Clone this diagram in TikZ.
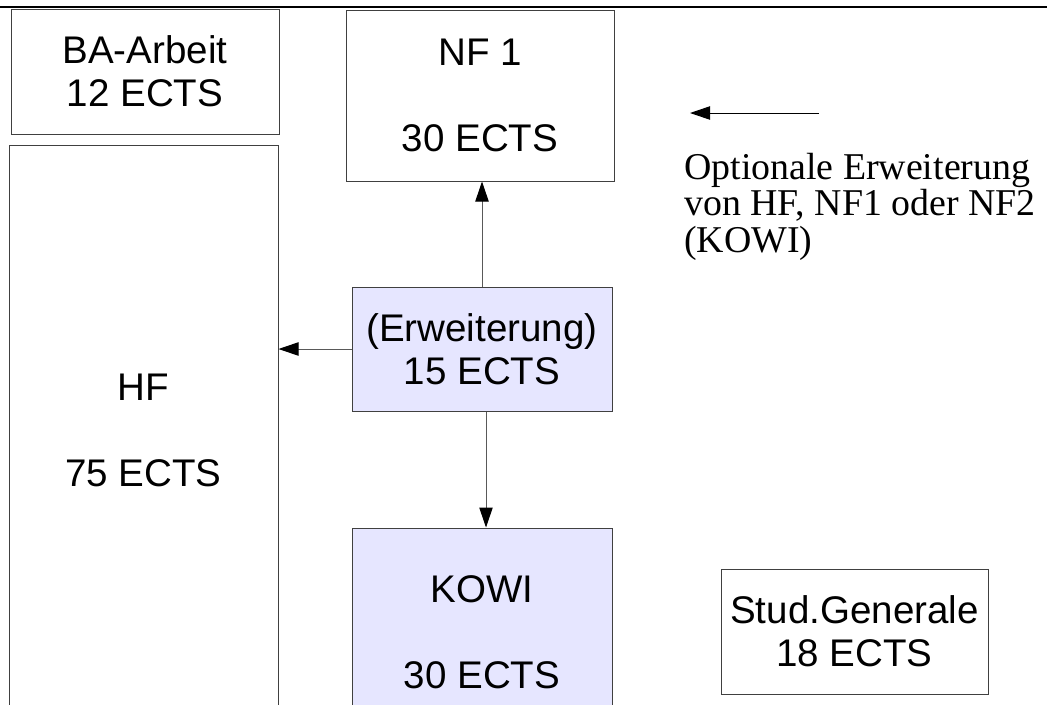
\documentclass[tikz,border=0pt]{standalone}
\usepackage{fontspec}
\setmainfont{Liberation Serif}
\setsansfont{Liberation Sans}
\usepackage{tikz}
\usetikzlibrary{arrows.meta,calc}

\definecolor{lavender}{RGB}{230,230,255}

\begin{document}
\begin{tikzpicture}[x=0.75pt,y=-0.75pt,
  modul/.style={draw=black!75,line width=0.75pt,rectangle,inner sep=0pt,align=center,
    font=\sffamily\fontsize{28.9}{32.25}\selectfont},
  erw/.style={modul,fill=lavender},
  pfeil/.style={draw=black!65,line width=0.75pt,-{Triangle[length=15pt,width=10pt,color=black]}}]
\useasboundingbox (0,0) rectangle (1047,704);
\draw[line width=1.5pt] (0,7) -- (1047,7);
% Module
\node[modul,minimum width=201pt,minimum height=93.75pt] (ba) at (145,71.5) {BA-Arbeit\\12 ECTS};
\node[modul,minimum width=201.75pt,minimum height=427.5pt] (hf) at (143.5,430) {HF\\[32.25pt]75 ECTS};
\node[modul,minimum width=201pt,minimum height=128.25pt] (nf) at (480,95.5) {NF 1\\[32.25pt]30 ECTS};
\node[erw,minimum width=195pt,minimum height=93pt] (erw) at (482,349) {(Erweiterung)\\15 ECTS};
\node[erw,minimum width=195pt,minimum height=156pt] (kowi) at (482,632) {KOWI\\[32.25pt]30 ECTS};
\node[modul,minimum width=200.25pt,minimum height=93.75pt] (stud) at (854.5,631.5) {Stud.Generale\\18 ECTS};
% Pfeile
\draw[pfeil] (erw.north) -- (nf.south -| erw.north);
\draw[pfeil] (erw.west) -- (erw.west -| hf.east);
\draw[pfeil] ($(erw.south)+(4,0)$) -- ($(kowi.north)+(4,0)$);
% Legende
\coordinate (la) at (819,113);
\coordinate (lb) at (690,113);
\draw[pfeil,draw=black] (la) -- (lb);
\node[anchor=north west,inner sep=0pt,align=left,
  font=\rmfamily\fontsize{28.4}{27.2}\selectfont] (leg) at (684,153)
  {Optionale Erweiterung\\von HF, NF1 oder NF2\\(KOWI)};
\end{tikzpicture}
\end{document}
